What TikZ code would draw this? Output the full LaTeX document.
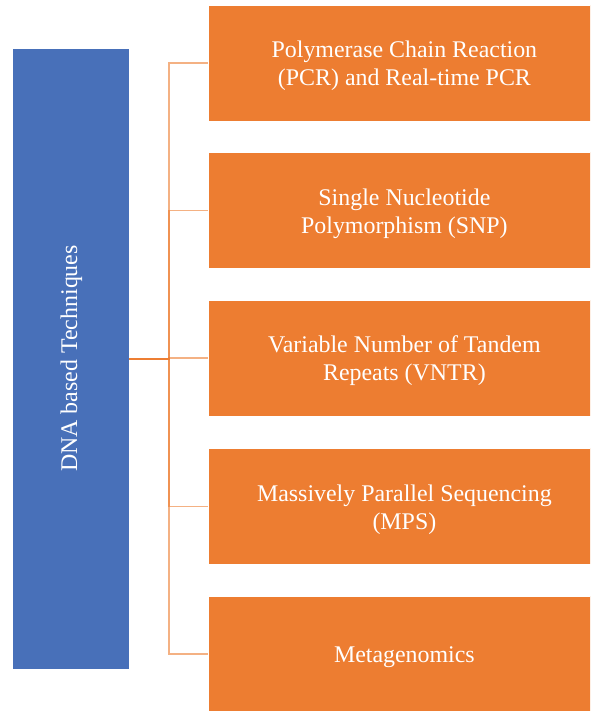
\documentclass[tikz,border=0pt]{standalone}
\usepackage{fontspec}
\setmainfont{Liberation Serif}
\definecolor{accentblue}{HTML}{4870B9}
\definecolor{accentorange}{HTML}{ED7D31}
\begin{document}
\begin{tikzpicture}[x=1pt,y=1pt,
  rootbox/.style={fill=accentblue, draw=white, line width=0.8pt, minimum width=117pt, minimum height=621pt, inner sep=0pt},
  itembox/.style={fill=accentorange, draw=white, line width=0.8pt, minimum width=392pt, minimum height=116pt, inner sep=0pt, anchor=west},
  itemtext/.style={text=white, font=\fontsize{23.9}{28}\selectfont, align=center, yshift=-3pt},
  link/.style={draw=accentorange, line width=1.5pt, draw opacity=0.6}]
\useasboundingbox (0,0) rectangle (590,711);
\clip (0,0) rectangle (590,711);
% root of the hierarchy
\node[rootbox] (root) at (70.5,352.5) {};
\node[text=white, font=\fontsize{23.9}{28}\selectfont, rotate=90] (rootlabel) at ([xshift=1pt]root.center) {DNA based Techniques};
% child techniques
\node[itembox] (c1) at (208,648) {};
\node[itembox] (c2) at (208,500.5) {};
\node[itembox] (c3) at (208,353) {};
\node[itembox] (c4) at (208,204.5) {};
\node[itembox] (c5) at (208,57) {};
\node[itemtext] (t1) at (c1.center) {Polymerase Chain Reaction\\(PCR) and Real-time PCR};
\node[itemtext] (t2) at (c2.center) {Single Nucleotide\\Polymorphism (SNP)};
\node[itemtext] (t3) at (c3.center) {Variable Number of Tandem\\Repeats (VNTR)};
\node[itemtext] (t4) at (c4.center) {Massively Parallel Sequencing\\(MPS)};
\node[itemtext] (t5) at (c5.center) {Metagenomics};
% elbow connectors from the root to each child
\coordinate (bus) at (169,352);
\foreach \c in {c1,c2,c3,c4,c5}{
  \draw[link] (root.east |- bus) -- (bus) -- (bus |- \c.west) -- (\c.west);
}
\end{tikzpicture}
\end{document}
